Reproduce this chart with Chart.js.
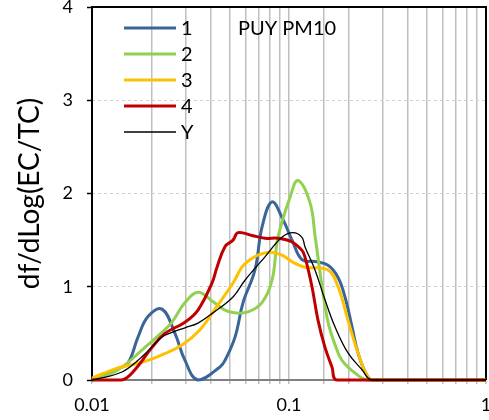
<!DOCTYPE html>
<html>
<head>
<meta charset="utf-8">
<script src="https://cdn.jsdelivr.net/npm/chart.js@4"></script>
<style>
  html, body { margin: 0; padding: 0; background: #fff; }
  #wrap { width: 489px; height: 420px; }
</style>
</head>
<body>
<div id="wrap"><canvas id="grafico" width="489" height="420"></canvas></div>
<script>
// values (x = EC/TC, y = df/dLog(EC/TC))
const x1 = [0.01, 0.01355, 0.01523, 0.01712, 0.01924, 0.02266, 0.02637, 0.02965, 0.0345, 0.04465, 0.04732, 0.05321, 0.05843, 0.06718, 0.07295, 0.08201, 0.09322, 0.1036, 0.1164, 0.1355, 0.1578, 0.1774, 0.1924, 0.2089, 0.224, 0.2518, 0.2733, 1];
const y1 = [0, 0.12, 0.18, 0.46, 0.68, 0.76, 0.50, 0.21, 0, 0.14, 0.21, 0.46, 0.83, 1.18, 1.64, 1.91, 1.72, 1.50, 1.29, 1.27, 1.23, 1.10, 0.89, 0.57, 0.29, 0.03, 0, 0];

const x2 = [0.01, 0.01355, 0.01858, 0.02266, 0.02547, 0.02965, 0.03452, 0.04113, 0.04732, 0.05321, 0.06192, 0.07295, 0.08201, 0.0879, 0.1012, 0.1111, 0.1279, 0.1355, 0.1472, 0.1578, 0.1712, 0.1858, 0.2163, 0.2518, 1];
const y2 = [0, 0.11, 0.35, 0.51, 0.62, 0.83, 0.94, 0.84, 0.75, 0.72, 0.73, 0.83, 1.07, 1.53, 1.96, 2.14, 1.90, 1.55, 1.0, 0.62, 0.38, 0.21, 0.075, 0, 0];

const x3 = [0.01, 0.01355, 0.01794, 0.02266, 0.02863, 0.03533, 0.04212, 0.05197, 0.0577, 0.06339, 0.0696, 0.08008, 0.09204, 0.1072, 0.1205, 0.1578, 0.1774, 0.1993, 0.224, 0.2518, 0.2733, 1];
const y3 = [0.02, 0.13, 0.19, 0.27, 0.375, 0.54, 0.76, 1.04, 1.21, 1.29, 1.34, 1.37, 1.34, 1.25, 1.21, 1.18, 1.0, 0.64, 0.29, 0.03, 0, 0];

const x4 = [0.01, 0.01419, 0.01652, 0.02017, 0.02347, 0.02965, 0.03452, 0.04064, 0.04311, 0.04732, 0.05197, 0.0551, 0.06486, 0.07554, 0.0879, 0.1036, 0.1164, 0.1205, 0.1308, 0.1404, 0.1523, 0.1652, 0.1753, 1];
const y4 = [0, 0, 0.11, 0.35, 0.50, 0.62, 0.75, 1.04, 1.21, 1.43, 1.50, 1.58, 1.55, 1.52, 1.52, 1.48, 1.39, 1.32, 1.0, 0.64, 0.35, 0.14, 0, 0];

const xY = [0.01, 0.01419, 0.01794, 0.02266, 0.02547, 0.02965, 0.03452, 0.04113, 0.05197, 0.05979, 0.07554, 0.09204, 0.1047, 0.1164, 0.1205, 0.1355, 0.1523, 0.1712, 0.1993, 0.2348, 0.2637, 1];
const yY = [0, 0.086, 0.25, 0.46, 0.51, 0.56, 0.61, 0.72, 0.89, 1.07, 1.32, 1.53, 1.58, 1.53, 1.43, 1.18, 0.86, 0.57, 0.29, 0.11, 0, 0];

const nomes = ['1', '2', '3', '4', 'Y'];
const cores = ['#3a6599', '#92d050', '#ffc000', '#c00000', '#000000'];
const espessuras = [3, 3, 3, 3, 1.3];
const xTickLabels = ['0.01', '0.1', '1'];
const titulo = 'PUY PM10';
const tituloY = 'df/dLog(EC/TC)';

const FONTE = 'Lato, "Open Sans", sans-serif';

function pontos(xs, ys) { return xs.map((x, i) => ({ x: x, y: ys[i] })); }
const series = [pontos(x1, y1), pontos(x2, y2), pontos(x3, y3), pontos(x4, y4), pontos(xY, yY)];

// frame (top/right black, left black, bottom gray) drawn under the curves
const moldura = {
    id: 'moldura',
    beforeDatasetsDraw(chart) {
        const { ctx, chartArea: a } = chart;
        ctx.save();
        ctx.lineWidth = 2;
        ctx.strokeStyle = '#808080';
        ctx.beginPath(); ctx.moveTo(a.left, a.bottom); ctx.lineTo(a.right, a.bottom); ctx.stroke();
        ctx.strokeStyle = '#000';
        ctx.beginPath();
        ctx.moveTo(a.left, a.bottom); ctx.lineTo(a.left, a.top);
        ctx.lineTo(a.right, a.top); ctx.lineTo(a.right, a.bottom);
        ctx.stroke();
        ctx.restore();
    },
    afterDraw(chart) {
        const { ctx, chartArea: a } = chart;
        ctx.save();
        // legend
        ctx.font = '20px ' + FONTE;
        ctx.textBaseline = 'middle';
        ctx.fillStyle = '#000';
        nomes.forEach((n, i) => {
            const y = 28 + i * 26;
            ctx.strokeStyle = cores[i];
            ctx.lineWidth = espessuras[i];
            ctx.beginPath(); ctx.moveTo(124, y); ctx.lineTo(176, y); ctx.stroke();
            ctx.fillText(n, 181, y + 1);
        });
        ctx.fillText(titulo, 238, 29);
        // y title
        ctx.font = '28px ' + FONTE;
        ctx.textAlign = 'center';
        ctx.translate(30, (a.top + a.bottom) / 2);
        ctx.rotate(-Math.PI / 2);
        ctx.fillText(tituloY, 0, 0);
        ctx.restore();
    }
};

const ctx = document.getElementById('grafico').getContext('2d');
window.graficoInstancia = new Chart(ctx, {
    type: 'line',
    data: {
        datasets: series.map((d, i) => ({
            label: nomes[i],
            data: d,
            borderColor: cores[i],
            borderWidth: espessuras[i],
            pointRadius: 0,
            fill: false,
            tension: 0.4,
            clip: 6,
            order: 5 - i
        }))
    },
    options: {
        responsive: false,
        animation: false,
        layout: { padding: { left: 0, right: 3, top: 7, bottom: 0 } },
        plugins: { legend: { display: false }, tooltip: { enabled: false } },
        scales: {
            x: {
                type: 'logarithmic',
                min: 0.01, max: 1,
                afterFit(s) { s.height = 40; s.paddingLeft = 0; s.paddingRight = 0; },
                border: { display: false },
                grid: { color: '#bfbfbf', lineWidth: 1.5, tickLength: 4, tickColor: '#bfbfbf' },
                ticks: {
                    autoSkip: false, maxRotation: 0, padding: 10,
                    color: '#000', font: { family: FONTE, size: 18 },
                    callback(v) {
                        const l = Math.log10(v);
                        if (Math.abs(l - Math.round(l)) > 1e-6) return '';
                        return xTickLabels[Math.round(l) + 2];
                    }
                }
            },
            y: {
                min: 0, max: 4,
                afterFit(s) { s.width = 92; s.paddingTop = 0; s.paddingBottom = 0; },
                border: { display: false, dash: [3, 3] },
                grid: { color: '#d0d0d0', lineWidth: 1, tickLength: 5, tickColor: '#000', tickWidth: 1.5 },
                ticks: { stepSize: 1, padding: 14, color: '#000', font: { family: FONTE, size: 18 } }
            }
        }
    },
    plugins: [moldura]
});
</script>
</body>
</html>
